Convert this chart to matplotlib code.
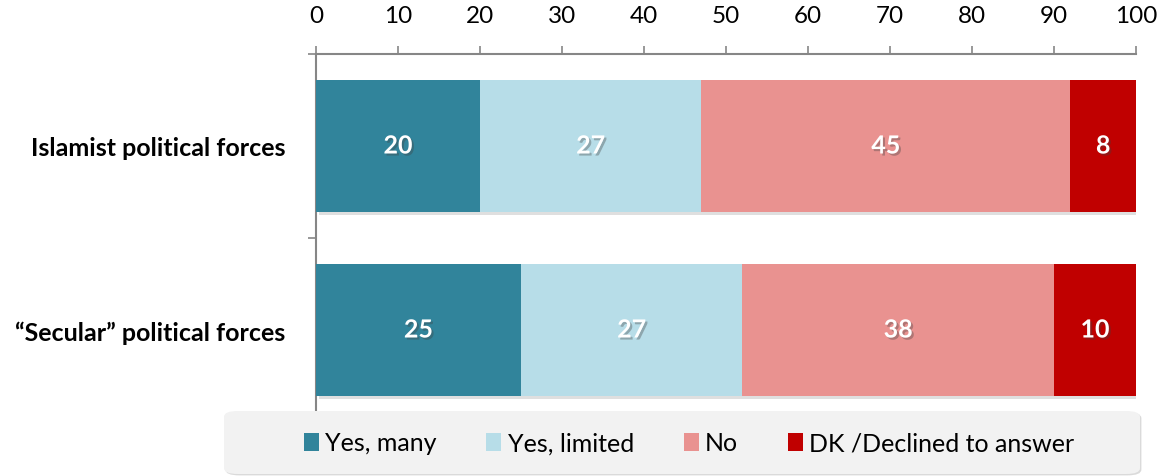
#Stacked horizontal bars: views on political forces

import numpy as np
import matplotlib.pyplot as plt
import matplotlib.patheffects as pe
from matplotlib.patches import FancyBboxPatch

#_________INPUT data_______
categories = ["Islamist political forces", "\u201cSecular\u201d political forces"]
series_names = ["Yes, many", "Yes, limited", "No", "DK /Declined to answer"]
yes_many = [20, 25]
yes_limited = [27, 27]
no = [45, 38]
dk = [8, 10]
xticks = [0, 10, 20, 30, 40, 50, 60, 70, 80, 90, 100]

colors = ["#31849b", "#b7dde8", "#e99290", "#c00000"]

#_________Figure Style_______________________
plt.rcParams["font.family"] = ["Lato", "DejaVu Sans"]
plt.rcParams["font.size"] = 18
plt.rcParams["figure.figsize"] = (11.6, 4.77)
plt.rcParams["figure.dpi"] = 100

fig, ax = plt.subplots()
fig.subplots_adjust(left=0.2724, right=0.9793, top=0.8847, bottom=0.1132)

y = np.arange(len(categories))
left = np.zeros(len(categories))
shadow = [pe.SimplePatchShadow(offset=(2, -2), alpha=0.25, shadow_rgbFace="#808080"), pe.Normal()]
for name, vals, c in zip(series_names, [yes_many, yes_limited, no, dk], colors):
    bars = ax.barh(y, vals, left=left, height=0.72, color=c, label=name,
                   path_effects=shadow, zorder=3)
    for yi, l, v in zip(y, left, vals):
        t = ax.text(l + v / 2, yi, str(v), ha="center", va="center",
                    color="white", fontweight="bold", fontsize=18, zorder=4)
        t.set_path_effects([pe.withSimplePatchShadow(offset=(1.5, -1.5), alpha=0.35,
                                                     shadow_rgbFace="#404040")])
    left += np.array(vals)

ax.set_xlim(0, 100)
ax.set_ylim(1.5, -0.5)
ax.set_xticks(xticks)
ax.xaxis.tick_top()
ax.tick_params(axis="x", direction="out", length=6, width=1.2, color="#868686",
               pad=14, labelsize=17.5)

# category labels on major ticks, divider ticks on minor
ax.set_yticks(y)
ax.set_yticklabels(categories, fontweight="bold", fontsize=18)
ax.tick_params(axis="y", which="major", length=0, pad=22)
ax.set_yticks([-0.5, 0.5, 1.5], minor=True)
ax.tick_params(axis="y", which="minor", direction="out", length=6, width=1.2,
               color="#868686")

for s in ["right", "bottom"]:
    ax.spines[s].set_visible(False)
for s in ["top", "left"]:
    ax.spines[s].set_color("#868686")
    ax.spines[s].set_linewidth(1.5)

# legend panel
box = FancyBboxPatch((224 / 1160, 2 / 477), 916 / 1160, 63 / 477,
                     boxstyle="round,pad=0,rounding_size=0.012",
                     transform=fig.transFigure, facecolor="#f2f2f2",
                     edgecolor="none", zorder=5,
                     path_effects=[pe.SimplePatchShadow(offset=(1, -1), alpha=0.2), pe.Normal()])
fig.patches.append(box)
leg = fig.legend(loc="center", bbox_to_anchor=(689 / 1160, 33 / 477), ncol=4,
                 frameon=False, fontsize=18, handlelength=0.6, handleheight=0.7,
                 handletextpad=0.25, columnspacing=2.0)
leg.set_zorder(6)
for h in leg.legend_handles:
    h.set_path_effects([])

fig.savefig("out.png")
